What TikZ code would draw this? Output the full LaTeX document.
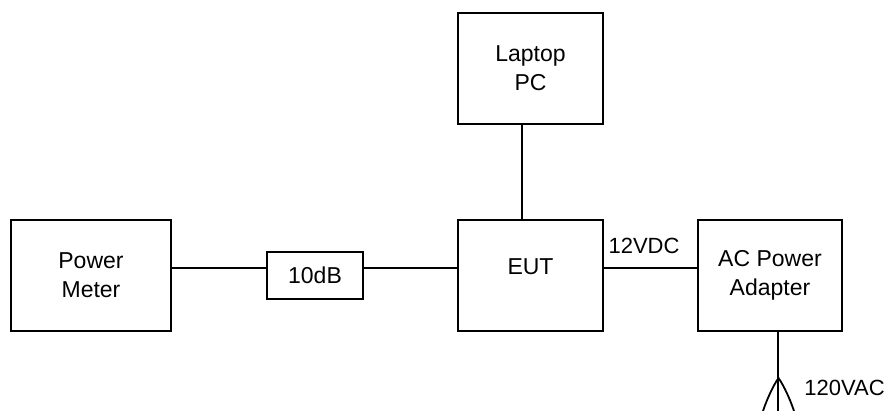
\documentclass[tikz,border=0pt]{standalone}
\usepackage{fontspec}
\setmainfont{Liberation Sans}
\begin{document}
\begin{tikzpicture}[x=1pt,y=-1pt,
  box/.style={draw,line width=1.8pt,inner sep=0pt,align=center,font=\fontsize{23}{29}\selectfont},
  lbl/.style={inner sep=0pt,font=\fontsize{22}{26}\selectfont},
  wire/.style={line width=1.8pt}]
\useasboundingbox (0,0) rectangle (888,411);
\node[box,minimum width=160pt,minimum height=111pt] (pm) at (91,275.5) {Power\\Meter};
\node[box,minimum width=96pt,minimum height=47pt] (att) at (315,275.5) {10dB};
\node[box,minimum width=145pt,minimum height=111pt] (eut) at (530.5,275.5) {};
\node[inner sep=0pt,font=\fontsize{23}{29}\selectfont] (eutt) at (530.5,267) {EUT};
\node[box,minimum width=145pt,minimum height=111pt] (pc) at (530.5,68.5) {Laptop\\PC};
\node[box,minimum width=144pt,minimum height=111pt] (ac) at (770,275.5) {AC Power\\Adapter};
\node[lbl] (v12) at (644,246) {12VDC};
\node[lbl] (v120) at (844.5,388) {120VAC};
\coordinate (y0) at (0,268);
\coordinate (pcx) at (522,0);
\coordinate (acx) at (778,0);
\coordinate (apex) at (778.5,378);
\coordinate (lf) at (763,411);
\coordinate (rf) at (794,411);
\coordinate (bot) at (778,411);
\draw[wire] (pm.east |- y0) -- (att.west |- y0);
\draw[wire] (att.east |- y0) -- (eut.west |- y0);
\draw[wire] (eut.east |- y0) -- (ac.west |- y0);
\draw[wire] (pc.south -| pcx) -- (eut.north -| pcx);
\draw[wire] (ac.south -| acx) -- (bot);
\draw[wire,line join=miter] (lf) .. controls (767,399) and (773,386) .. (apex) .. controls (784,386) and (790,399) .. (rf);
\end{tikzpicture}
\end{document}
